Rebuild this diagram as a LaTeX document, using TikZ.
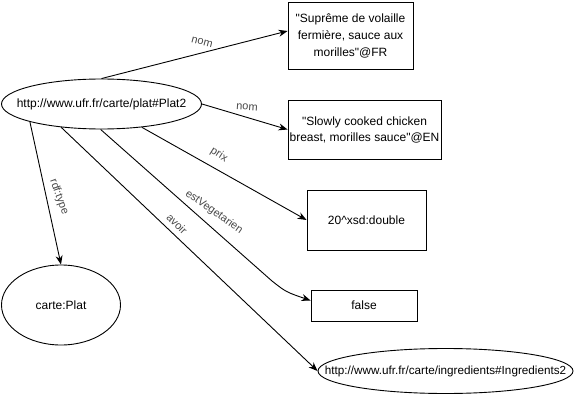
\documentclass[tikz,border=0pt]{standalone}
\usepackage{fontspec}
\setmainfont{Liberation Sans}[Ligatures=TeXOff]
\usetikzlibrary{arrows.meta,shapes.geometric}
\begin{document}
\begin{tikzpicture}[x=1pt,y=-1pt,
  every node/.style={font=\fontsize{12}{16}\selectfont, inner sep=0pt},
  res/.style={ellipse, draw, line width=0.9pt},
  lit/.style={rectangle, draw, line width=0.9pt, align=center},
  edge/.style={draw, line width=0.9pt, -{Stealth[length=9pt,width=7pt]}},
  elabel/.style={font=\fontsize{11}{13}\selectfont, text=black!72}
]
\useasboundingbox (0,0) rectangle (581,401);
% nodes
\node[res, minimum width=200pt, minimum height=50pt] (plat) at (101.5,104) {\makebox[0pt]{http://www.ufr.fr/carte/plat\#Plat2}};
\node[lit, minimum width=125pt, minimum height=67pt, font=\fontsize{12}{17}\selectfont] (fr) at (350.5,35.5) {"Suprême de volaille\\fermière, sauce aux\\morilles"@FR};
\node[lit, minimum width=153pt, minimum height=59pt] (en) at (364.5,129.5) {"Slowly cooked chicken\\breast, morilles sauce"@EN};
\node[lit, minimum width=119pt, minimum height=60pt] (prixv) at (366.5,220) {20\textasciicircum xsd:double};
\node[lit, minimum width=106pt, minimum height=31pt] (falsev) at (364,305.5) {false};
\node[res, minimum width=119pt, minimum height=80pt] (cplat) at (61,305) {\makebox[0pt]{carte:Plat}};
\node[res, minimum width=255pt, minimum height=45pt] (ingr) at (445.5,371) {\makebox[0pt]{\fontsize{11.7}{14}\selectfont http://www.ufr.fr/carte/ingredients\#Ingredients2}};
% bend helpers
\coordinate (ev) at (272,281);
\coordinate (evc) at (286,292);
% edges
\draw[edge] (plat.north) -- ([yshift=4.5pt]fr.west);
\draw[edge] (plat.east) -- (en.west);
\draw[edge] (plat.-30) -- (prixv.west);
\draw[edge] (plat.-92) -- (ev) .. controls (evc) .. ([yshift=5pt]falsev.west);
\draw[edge] (plat.-150) -- (ingr.west);
\draw[edge] (plat.-166) -- (cplat.north);
% edge labels
\node[elabel, rotate=-14.5] (lnom1) at (202,42) {nom};
\node[elabel, rotate=-4] (lnom2) at (247,107) {nom};
\node[elabel, rotate=-32] (lprix) at (219,155) {prix};
\node[elabel, rotate=-35] (lveg) at (214,212) {estVegetarien};
\node[elabel, rotate=-45] (lavoir) at (177,224) {avoir};
\node[elabel, rotate=-70] (ltype) at (59,197) {rdf:type};
\end{tikzpicture}
\end{document}
